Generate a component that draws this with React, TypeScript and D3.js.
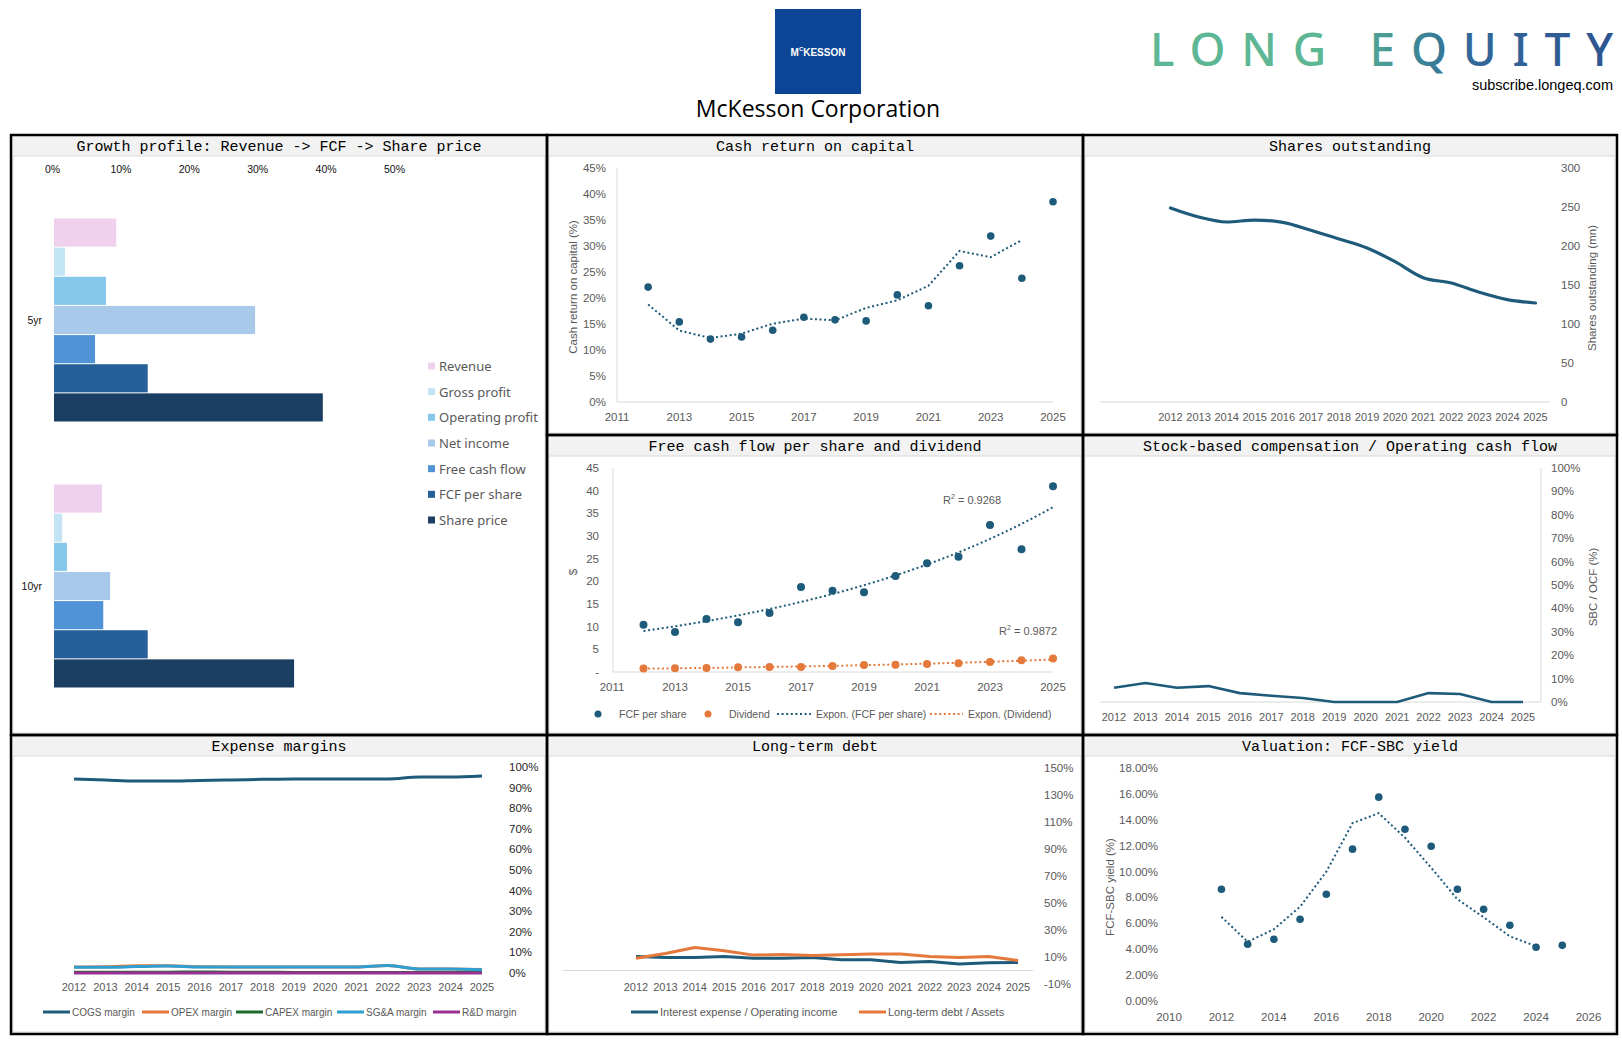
import React from 'react';
import * as d3 from 'd3';

// ---- data ----
const years = [2012, 2013, 2014, 2015, 2016, 2017, 2018, 2019, 2020, 2021, 2022, 2023, 2024, 2025];

const growthPeriods = ['5yr', '10yr'];
const growthMetrics = ['Revenue', 'Gross profit', 'Operating profit', 'Net income', 'Free cash flow', 'FCF per share', 'Share price'];
const growth5yr = [9.1, 1.6, 7.6, 29.4, 6.0, 13.7, 39.3];
const growth10yr = [7.0, 1.2, 1.9, 8.2, 7.2, 13.7, 35.1];
const growthColors = ['#efd1ee', '#c3e4f4', '#86c8eb', '#a9c9ea', '#5093d6', '#265f99', '#1b3f62'];
const growthTicks = [0, 10, 20, 30, 40, 50];

const cashReturn = [22.1, 15.4, 12.1, 12.5, 13.8, 16.3, 15.8, 15.6, 20.6, 18.5, 26.2, 31.9, 23.8, 38.5];
const sharesOut = [248.7, 237.2, 230.8, 233.3, 230.3, 220.1, 209.0, 197.4, 179.9, 159.4, 152.6, 140.6, 131.2, 126.9];
const fcfPerShare = [10.4, 8.8, 11.7, 11.0, 13.0, 18.75, 17.9, 17.6, 21.2, 24.0, 25.4, 32.4, 27.1, 41.0];
const dividend = [0.75, 0.85, 0.9, 1.05, 1.1, 1.12, 1.35, 1.55, 1.6, 1.75, 1.95, 2.2, 2.6, 3.0];
const sbcToOcf = [6.1, 8.1, 6.1, 6.8, 3.8, 2.7, 1.7, 0, 0, 0, 3.8, 3.4, 0, 0];

const cogsMargin = [94.2, 93.7, 93.2, 93.2, 93.5, 93.7, 94.0, 94.2, 94.2, 94.2, 94.2, 95.1, 95.1, 95.6];
const opexMargin = [2.9, 3.0, 3.5, 3.5, 3.0, 2.9, 2.9, 2.9, 2.9, 2.9, 3.6, 2.0, 2.0, 1.7];
const capexMargin = [0.4, 0.4, 0.4, 0.4, 0.5, 0.4, 0.4, 0.3, 0.3, 0.3, 0.3, 0.3, 0.3, 0.3];
const sgaMargin = [2.75, 2.75, 3.1, 3.4, 2.9, 2.9, 2.9, 2.9, 2.9, 2.9, 3.6, 1.9, 1.9, 1.6];
const rndMargin = [0, 0, 0, 0, 0, 0, 0, 0, 0, 0, 0, 0, 0, 0];
const expenseNames = ['COGS margin', 'OPEX margin', 'CAPEX margin', 'SG&A margin', 'R&D margin'];
const expenseColors = ['#1e5b7a', '#e4793b', '#1d6b2c', '#2f9fd1', '#9a2f94'];

const interestToOpInc = [10.4, 9.6, 9.6, 10.4, 9.1, 9.1, 9.6, 7.9, 7.9, 5.9, 6.7, 4.9, 5.7, 5.9];
const ltdToAssets = [9.1, 12.6, 17.0, 14.6, 11.4, 11.9, 11.1, 11.6, 12.3, 12.3, 10.4, 9.6, 10.4, 7.4];

const fcfSbcYield = [8.63, 4.38, 4.77, 6.31, 8.25, 11.73, 15.75, 13.27, 11.96, 8.63, 7.09, 5.85, 4.15, 4.30];

const BLUE = '#1e5b7a';
const ORANGE = '#e4793b';
const GREY = '#595959';
const LABEL_FONT = "'Liberation Sans', Arial, sans-serif";

// 2-period moving average, plotted at the first year of each pair
const movingAvg = (v: number[]) => v.slice(0, -1).map((d, i) => (d + v[i + 1]) / 2);

// exponential least-squares fit on ln(y), like Excel's Expon. trendline
function expFit(xs: number[], ys: number[]) {
  const ly = ys.map(Math.log);
  const mx = d3.mean(xs) as number;
  const my = d3.mean(ly) as number;
  const b = d3.sum(xs, (x, i) => (x - mx) * (ly[i] - my)) / d3.sum(xs, x => (x - mx) ** 2);
  const a = my - b * mx;
  return (x: number) => Math.exp(a + b * x);
}

function Panel({ x0, y0, x1, y1, title }: { x0: number; y0: number; x1: number; y1: number; title: string }) {
  return (
    <g>
      <rect x={x0 + 2} y={y0 + 2} width={x1 - x0 - 4} height={y1 - y0 - 4} fill="#fff" stroke="#dcdcdc" />
      <rect x={x0 + 2} y={y0 + 2} width={x1 - x0 - 4} height={19} fill="#f2f2f2" />
      <line x1={x0 + 2} x2={x1 - 2} y1={y0 + 21} y2={y0 + 21} stroke="#d9d9d9" />
      <text x={(x0 + x1) / 2} y={y0 + 16} textAnchor="middle" fontFamily="'Liberation Mono', 'Courier New', monospace" fontSize={15} fill="#000">{title}</text>
    </g>
  );
}

function GrowthChart() {
  const x = d3.scaleLinear().domain([0, 50]).range([54, 396]);
  const outer = d3.scaleBand<string>().domain(growthPeriods).range([187, 719]);
  const inner = d3.scaleBand<string>().domain(growthMetrics).range([0, 203]).paddingInner(1 / 29);
  const off = (outer.bandwidth() - 203) / 2;
  const series = [growth5yr, growth10yr];
  const legendY = d3.scalePoint<string>().domain(growthMetrics).range([366, 520]);
  return (
    <g fontFamily={LABEL_FONT}>
      {growthTicks.map(t => (
        <text key={t} x={x(t) - 1.5} y={169} textAnchor="middle" dominantBaseline="central" fontSize={10.5} fill="#111">{t}%</text>
      ))}
      {growthPeriods.map((p, pi) => (
        <g key={p}>
          <text x={42} y={(outer(p) as number) + outer.bandwidth() / 2} textAnchor="end" dominantBaseline="central" fontSize={10.5} fill="#111">{p}</text>
          {growthMetrics.map((m, mi) => (
            <rect key={m} x={x(0)} y={(outer(p) as number) + off + (inner(m) as number)} width={x(series[pi][mi]) - x(0)} height={inner.bandwidth()} fill={growthColors[mi]} />
          ))}
        </g>
      ))}
      {growthMetrics.map((m, mi) => (
        <g key={m} transform={`translate(428,${legendY(m)})`}>
          <rect x={0} y={-3.5} width={7} height={7} fill={growthColors[mi]} />
          <text x={11} y={0} dominantBaseline="central" fontSize={13} fill={GREY} fontFamily="'Noto Sans', sans-serif">{m}</text>
        </g>
      ))}
    </g>
  );
}

function CashReturnChart() {
  const x = d3.scaleLinear().domain([2011, 2025]).range([617, 1053]);
  const y = d3.scaleLinear().domain([0, 45]).range([402, 168]);
  const trend = movingAvg(cashReturn);
  const line = d3.line<number>().x((_, i) => x(years[i])).y(d => y(d));
  return (
    <g fontFamily={LABEL_FONT} fontSize={11.5} fill={GREY}>
      <line x1={617} x2={617} y1={168} y2={402} stroke="#d9d9d9" />
      <line x1={617} x2={1053} y1={402} y2={402} stroke="#d9d9d9" />
      {d3.range(0, 46, 5).map(t => (
        <text key={t} x={606} y={y(t)} textAnchor="end" dominantBaseline="central">{t}%</text>
      ))}
      {d3.range(2011, 2026, 2).map(t => (
        <text key={t} x={x(t)} y={417} textAnchor="middle" dominantBaseline="central">{t}</text>
      ))}
      <text transform="translate(573,287) rotate(-90)" textAnchor="middle" dominantBaseline="central">Cash return on capital (%)</text>
      <path d={line(trend) as string} fill="none" stroke={BLUE} strokeWidth={2} strokeDasharray="2 2.6" />
      {cashReturn.map((v, i) => <circle key={i} cx={x(years[i])} cy={y(v)} r={3.8} fill={BLUE} />)}
    </g>
  );
}

function SharesChart() {
  const x = d3.scalePoint<number>().domain(years).range([1170.5, 1535.5]);
  const y = d3.scaleLinear().domain([0, 300]).range([402, 168]);
  const line = d3.line<number>().x((_, i) => x(years[i]) as number).y(d => y(d)).curve(d3.curveMonotoneX);
  return (
    <g fontFamily={LABEL_FONT} fontSize={11.5} fill={GREY}>
      <line x1={1100} x2={1550} y1={402} y2={402} stroke="#d9d9d9" />
      {d3.range(0, 301, 50).map(t => (
        <text key={t} x={1561} y={y(t)} dominantBaseline="central">{t}</text>
      ))}
      {years.map(t => (
        <text key={t} x={x(t)} y={417} textAnchor="middle" dominantBaseline="central" fontSize={11}>{t}</text>
      ))}
      <text transform="translate(1592,288) rotate(-90)" textAnchor="middle" dominantBaseline="central">Shares outstanding (mn)</text>
      <path d={line(sharesOut) as string} fill="none" stroke={BLUE} strokeWidth={3.2} strokeLinejoin="round" strokeLinecap="round" />
    </g>
  );
}

function FcfChart() {
  const x = d3.scaleLinear().domain([2011, 2025]).range([612, 1053]);
  const y = d3.scaleLinear().domain([0, 45]).range([672, 468]);
  const idx = years.map((_, i) => i);
  const fcfTrend = expFit(idx, fcfPerShare);
  const divTrend = expFit(idx, dividend);
  const tline = (f: (t: number) => number) =>
    d3.line<number>().x(t => x(years[0] + t)).y(t => y(f(t))).curve(d3.curveMonotoneX)(d3.range(0, years.length - 1 + 0.001, 0.25)) as string;
  return (
    <g fontFamily={LABEL_FONT} fontSize={11.5} fill={GREY}>
      <line x1={613} x2={613} y1={468} y2={672} stroke="#d9d9d9" />
      <line x1={613} x2={1053} y1={672} y2={672} stroke="#d9d9d9" />
      {d3.range(0, 46, 5).map(t => (
        <text key={t} x={599} y={y(t)} textAnchor="end" dominantBaseline="central">{t === 0 ? '-' : t}</text>
      ))}
      {d3.range(2011, 2026, 2).map(t => (
        <text key={t} x={x(t)} y={687} textAnchor="middle" dominantBaseline="central">{t}</text>
      ))}
      <text transform="translate(573,572) rotate(-90)" textAnchor="middle" dominantBaseline="central">$</text>
      <path d={tline(fcfTrend)} fill="none" stroke={BLUE} strokeWidth={2} strokeDasharray="2 2.6" />
      <path d={tline(divTrend)} fill="none" stroke={ORANGE} strokeWidth={2} strokeDasharray="2 2.6" />
      {fcfPerShare.map((v, i) => <circle key={'f' + i} cx={x(years[i])} cy={y(v)} r={4} fill={BLUE} />)}
      {dividend.map((v, i) => <circle key={'d' + i} cx={x(years[i])} cy={y(v)} r={4} fill={ORANGE} />)}
      <text x={943} y={500} fontSize={11} dominantBaseline="central">R<tspan fontSize={7} dy={-4}>2</tspan><tspan dy={4}> = 0.9268</tspan></text>
      <text x={999} y={631} fontSize={11} dominantBaseline="central">R<tspan fontSize={7} dy={-4}>2</tspan><tspan dy={4}> = 0.9872</tspan></text>
      <g fontSize={10.5} fill={GREY}>
        <circle cx={598} cy={714} r={3.5} fill={BLUE} />
        <text x={619} y={714} dominantBaseline="central">FCF per share</text>
        <circle cx={708} cy={714} r={3.5} fill={ORANGE} />
        <text x={729} y={714} dominantBaseline="central">Dividend</text>
        <line x1={777} x2={811} y1={714} y2={714} stroke={BLUE} strokeWidth={2} strokeDasharray="2 2.6" />
        <text x={816} y={714} dominantBaseline="central">Expon. (FCF per share)</text>
        <line x1={930} x2={963} y1={714} y2={714} stroke={ORANGE} strokeWidth={2} strokeDasharray="2 2.6" />
        <text x={968} y={714} dominantBaseline="central">Expon. (Dividend)</text>
      </g>
    </g>
  );
}

function SbcChart() {
  const x = d3.scalePoint<number>().domain(years).range([1114, 1523]);
  const y = d3.scaleLinear().domain([0, 100]).range([702, 468]);
  const line = d3.line<number>().x((_, i) => x(years[i]) as number).y(d => y(d));
  return (
    <g fontFamily={LABEL_FONT} fontSize={11.5} fill={GREY}>
      <line x1={1541} x2={1541} y1={468} y2={702} stroke="#d9d9d9" />
      <line x1={1100} x2={1541} y1={702} y2={702} stroke="#d9d9d9" />
      {d3.range(0, 101, 10).map(t => (
        <text key={t} x={1551} y={y(t)} dominantBaseline="central">{t}%</text>
      ))}
      {years.map(t => (
        <text key={t} x={x(t)} y={717} textAnchor="middle" dominantBaseline="central" fontSize={11}>{t}</text>
      ))}
      <text transform="translate(1593,587) rotate(-90)" textAnchor="middle" dominantBaseline="central">SBC / OCF (%)</text>
      <path d={line(sbcToOcf) as string} fill="none" stroke={BLUE} strokeWidth={2.6} strokeLinejoin="round" />
    </g>
  );
}

function ExpenseChart() {
  const x = d3.scalePoint<number>().domain(years).range([74, 482]);
  const y = d3.scaleLinear().domain([0, 100]).range([973, 767]);
  const series = [cogsMargin, opexMargin, capexMargin, sgaMargin, rndMargin];
  const line = d3.line<number>().x((_, i) => x(years[i]) as number).y(d => y(d)).curve(d3.curveMonotoneX);
  const legendX = [43, 142, 236, 337, 433];
  const drawOrder = [0, 1, 2, 4, 3];
  return (
    <g fontFamily={LABEL_FONT} fontSize={11.5}>
      {d3.range(0, 101, 10).map(t => (
        <text key={t} x={509} y={y(t)} dominantBaseline="central" fill="#262626">{t}%</text>
      ))}
      {years.map(t => (
        <text key={t} x={x(t)} y={987} textAnchor="middle" dominantBaseline="central" fill={GREY} fontSize={11}>{t}</text>
      ))}
      {drawOrder.map(k => (
        <path key={k} d={line(series[k]) as string} fill="none" stroke={expenseColors[k]} strokeWidth={3} strokeLinejoin="round" />
      ))}
      {expenseNames.map((n, k) => (
        <g key={n}>
          <line x1={legendX[k]} x2={legendX[k] + 27} y1={1012} y2={1012} stroke={expenseColors[k]} strokeWidth={3} />
          <text x={legendX[k] + 29} y={1012} dominantBaseline="central" fill={GREY} fontSize={10}>{n}</text>
        </g>
      ))}
    </g>
  );
}

function DebtChart() {
  const x = d3.scalePoint<number>().domain(years).range([636, 1018]);
  const y = d3.scaleLinear().domain([-10, 150]).range([984, 768]);
  const line = d3.line<number>().x((_, i) => x(years[i]) as number).y(d => y(d));
  return (
    <g fontFamily={LABEL_FONT} fontSize={11.5}>
      <line x1={563} x2={1033} y1={y(0)} y2={y(0)} stroke="#d9d9d9" />
      {d3.range(-10, 151, 20).map(t => (
        <text key={t} x={1044} y={y(t)} dominantBaseline="central" fill={GREY}>{t}%</text>
      ))}
      {years.map(t => (
        <text key={t} x={x(t)} y={987} textAnchor="middle" dominantBaseline="central" fill={GREY} fontSize={11}>{t}</text>
      ))}
      <path d={line(interestToOpInc) as string} fill="none" stroke={BLUE} strokeWidth={3} strokeLinejoin="round" />
      <path d={line(ltdToAssets) as string} fill="none" stroke={ORANGE} strokeWidth={3} strokeLinejoin="round" />
      <line x1={631} x2={658} y1={1012} y2={1012} stroke={BLUE} strokeWidth={3} />
      <text x={660} y={1012} dominantBaseline="central" fill={GREY} fontSize={11}>Interest expense / Operating income</text>
      <line x1={859} x2={886} y1={1012} y2={1012} stroke={ORANGE} strokeWidth={3} />
      <text x={888} y={1012} dominantBaseline="central" fill={GREY} fontSize={11}>Long-term debt / Assets</text>
    </g>
  );
}

function ValuationChart() {
  const x = d3.scaleLinear().domain([2010, 2026]).range([1169, 1588.5]);
  const y = d3.scaleLinear().domain([0, 18]).range([1001, 768]);
  const trend = movingAvg(fcfSbcYield);
  const line = d3.line<number>().x((_, i) => x(years[i])).y(d => y(d));
  return (
    <g fontFamily={LABEL_FONT} fontSize={11.5} fill={GREY}>
      {d3.range(0, 19, 2).map(t => (
        <text key={t} x={1158} y={y(t)} textAnchor="end" dominantBaseline="central">{t.toFixed(2)}%</text>
      ))}
      {d3.range(2010, 2027, 2).map(t => (
        <text key={t} x={x(t)} y={1017} textAnchor="middle" dominantBaseline="central">{t}</text>
      ))}
      <text transform="translate(1110,887) rotate(-90)" textAnchor="middle" dominantBaseline="central">FCF-SBC yield (%)</text>
      <path d={line(trend) as string} fill="none" stroke={BLUE} strokeWidth={2} strokeDasharray="2 2.6" />
      {fcfSbcYield.map((v, i) => <circle key={i} cx={x(years[i])} cy={y(v)} r={3.8} fill={BLUE} />)}
    </g>
  );
}

function Header() {
  return (
    <g>
      <rect x={775} y={9} width={86} height={85} fill="#0c4595" />
      <text x={818} y={52} textAnchor="middle" dominantBaseline="central" fill="#fff" fontFamily={LABEL_FONT} fontWeight="bold" fontSize={10}>
        M<tspan fontSize={6} dy={-3}>C</tspan><tspan dy={3}>KESSON</tspan>
      </text>
      <text x={818} y={117} textAnchor="middle" fontFamily="'Open Sans', 'Noto Sans', sans-serif" fontSize={23} fill="#000">McKesson Corporation</text>
      <defs>
        <linearGradient id="leGrad" gradientUnits="userSpaceOnUse" x1={1150} x2={1613} y1={0} y2={0}>
          <stop offset="0" stopColor="#5db694" />
          <stop offset="0.42" stopColor="#5db694" />
          <stop offset="0.56" stopColor="#3f8b95" />
          <stop offset="0.68" stopColor="#33699a" />
          <stop offset="1" stopColor="#2d5490" />
        </linearGradient>
      </defs>
      <text x={1150} y={66} fontFamily="'Noto Sans', sans-serif" fontWeight={500} fontSize={46} fill="url(#leGrad)" textLength={463} lengthAdjust="spacing">LONG EQUITY</text>
      <text x={1613} y={90} textAnchor="end" fontFamily={LABEL_FONT} fontSize={14.5} fill="#000">subscribe.longeq.com</text>
    </g>
  );
}

export default function App() {
  const cols = [11, 547, 1083, 1617];
  const rows = [135, 435, 735, 1034];
  const panels = [
    { x0: cols[0], x1: cols[1], y0: rows[0], y1: rows[2], title: 'Growth profile: Revenue -> FCF -> Share price' },
    { x0: cols[1], x1: cols[2], y0: rows[0], y1: rows[1], title: 'Cash return on capital' },
    { x0: cols[2], x1: cols[3], y0: rows[0], y1: rows[1], title: 'Shares outstanding' },
    { x0: cols[1], x1: cols[2], y0: rows[1], y1: rows[2], title: 'Free cash flow per share and dividend' },
    { x0: cols[2], x1: cols[3], y0: rows[1], y1: rows[2], title: 'Stock-based compensation / Operating cash flow' },
    { x0: cols[0], x1: cols[1], y0: rows[2], y1: rows[3], title: 'Expense margins' },
    { x0: cols[1], x1: cols[2], y0: rows[2], y1: rows[3], title: 'Long-term debt' },
    { x0: cols[2], x1: cols[3], y0: rows[2], y1: rows[3], title: 'Valuation: FCF-SBC yield' },
  ];
  return (
    <svg width={1622} height={1042} viewBox="0 0 1622 1042" style={{ position: 'absolute', left: 0, top: 0, background: '#fff' }}>
      <rect width={1622} height={1042} fill="#fff" />
      <Header />
      {panels.map(p => <Panel key={p.title} {...p} />)}
      <GrowthChart />
      <CashReturnChart />
      <SharesChart />
      <FcfChart />
      <SbcChart />
      <ExpenseChart />
      <DebtChart />
      <ValuationChart />
      {panels.map(p => (
        <rect key={'b' + p.title} x={p.x0} y={p.y0} width={p.x1 - p.x0} height={p.y1 - p.y0} fill="none" stroke="#000" strokeWidth={2.5} />
      ))}
    </svg>
  );
}
